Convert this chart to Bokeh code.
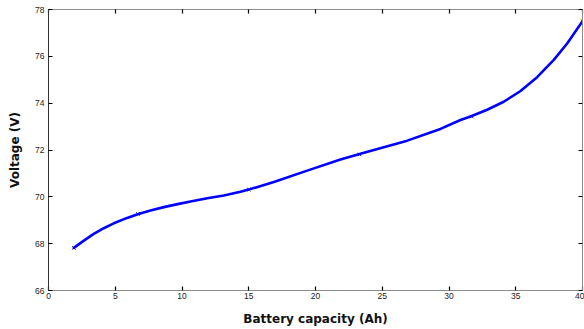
from bokeh.plotting import figure
from bokeh.models import LinearAxis, Range1d, FixedTicker
from bokeh.embed import file_html
from bokeh.resources import INLINE

# Smooth curve
capacity = [1.9, 2.65, 3.39, 4.14, 4.89, 5.89, 6.74, 7.64, 8.64, 9.76, 10.64, 11.89, 13.13,
            14.38, 15.13, 16.88, 19.38, 21.87, 23.37, 24.37, 26.87, 29.36, 30.86, 31.61,
            32.86, 34.1, 35.36, 36.6, 37.85, 38.85, 40.0]
voltage = [67.82, 68.13, 68.42, 68.66, 68.87, 69.1, 69.27, 69.42, 69.56, 69.7, 69.8, 69.94,
           70.06, 70.22, 70.33, 70.63, 71.12, 71.59, 71.84, 72.0, 72.4, 72.9, 73.28, 73.43,
           73.72, 74.06, 74.52, 75.11, 75.85, 76.55, 77.5]

# Measured points (x markers)
marker_capacity = [1.9, 6.7, 15.0, 23.3, 31.7, 40.0]
marker_voltage = [67.82, 69.27, 70.31, 71.81, 73.43, 77.5]

x_ticks = [0, 5, 10, 15, 20, 25, 30, 35, 40]
y_ticks = [66, 68, 70, 72, 74, 76, 78]

p = figure(width=584, height=329, output_backend="svg", toolbar_location=None,
           x_range=Range1d(0, 40), y_range=Range1d(66, 78),
           min_border_left=48, min_border_right=2, min_border_top=9, min_border_bottom=39)
p.background_fill_color = "white"
p.border_fill_color = "white"
p.grid.visible = False
p.outline_line_color = "#8c8c8c"
p.outline_line_width = 1

bottom_axis = p.below[0]
left_axis = p.left[0]

top_axis = LinearAxis()
right_axis = LinearAxis()
p.add_layout(top_axis, "above")
p.add_layout(right_axis, "right")

for ax in (top_axis, right_axis):
    ax.major_label_text_font_size = "1px"
    ax.major_label_text_color = None
    ax.major_label_standoff = 0
    ax.axis_line_color = "#8c8c8c"

for ax, ticks in ((bottom_axis, x_ticks), (left_axis, y_ticks),
                  (top_axis, x_ticks), (right_axis, y_ticks)):
    ax.ticker = FixedTicker(ticks=ticks)
    ax.major_tick_in = 4
    ax.major_tick_out = 0
    ax.major_tick_line_width = 1.2
    ax.minor_tick_line_color = None
    ax.major_tick_line_color = "black"

for ax in (bottom_axis, left_axis):
    ax.major_label_text_font = "Liberation Sans"
    ax.major_label_text_font_size = "8.5px"
    ax.major_label_text_color = "#222222"
    ax.axis_label_text_font = "DejaVu Sans"
    ax.axis_label_text_font_style = "bold"
    ax.axis_label_text_font_size = "12px"
    ax.axis_label_text_color = "#111111"

bottom_axis.axis_label = "Battery capacity (Ah)"
left_axis.axis_label = "Voltage (V)"
bottom_axis.axis_line_color = "#8c8c8c"
left_axis.axis_line_color = "#333333"
bottom_axis.major_label_standoff = 2
left_axis.major_label_standoff = 4
bottom_axis.axis_label_standoff = 10
left_axis.axis_label_standoff = 10

p.scatter(marker_capacity, marker_voltage, marker="x", size=5, line_color="#333333", line_width=1)
p.line(capacity, voltage, line_color="#0000ff", line_width=2.6, line_join="round", line_cap="round")

html = file_html(p, INLINE)
html = html.replace("<body>", "<body style=\"margin:0\">")
open("out.html", "w").write(html)
